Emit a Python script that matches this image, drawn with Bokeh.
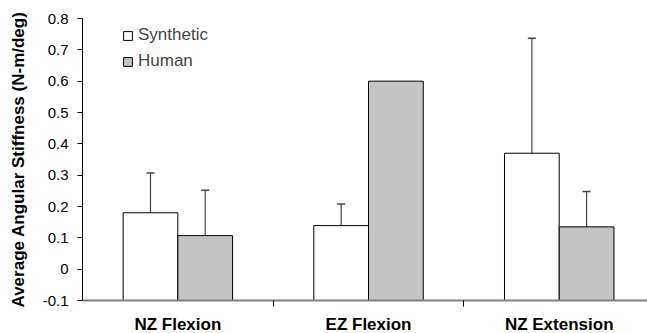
from bokeh.plotting import figure
from bokeh.models import Range1d, FixedTicker, Legend, LegendItem, Whisker, ColumnDataSource, TeeHead
from bokeh.embed import file_html
from bokeh.resources import INLINE

categories = ["NZ Flexion", "EZ Flexion", "NZ Extension"]
synthetic = [0.18, 0.139, 0.37]
synthetic_lo = [0.048, 0.072, 0.0]
synthetic_hi = [0.307, 0.208, 0.737]
human = [0.107, 0.600, 0.135]
human_lo = [-0.037, None, 0.021]
human_hi = [0.252, None, 0.248]
y_ticks = [-0.1, 0, 0.1, 0.2, 0.3, 0.4, 0.5, 0.6, 0.7, 0.8]
y_tick_labels = ["-0.1", "0", "0.1", "0.2", "0.3", "0.4", "0.5", "0.6", "0.7", "0.8"]

FONT = "Liberation Sans"
BAR_W = 0.287
n = len(categories)
centers = [i + 0.5 for i in range(n)]
xs_syn = [c - BAR_W / 2 for c in centers]
xs_hum = [c + BAR_W / 2 for c in centers]

p = figure(width=647, height=336, output_backend="svg", toolbar_location=None,
           x_range=Range1d(0, 2.963), y_range=Range1d(-0.1, 0.8),
           min_border_left=82, min_border_right=0, min_border_top=18, min_border_bottom=36)
p.outline_line_color = None
p.xgrid.visible = False
p.ygrid.visible = False
p.background_fill_color = "white"

src_s = ColumnDataSource(dict(x=xs_syn, top=synthetic))
src_h = ColumnDataSource(dict(x=xs_hum, top=human))
r_s = p.vbar(x="x", top="top", bottom=-0.1, width=BAR_W, source=src_s,
             fill_color="white", line_color="black", line_width=1)
r_h = p.vbar(x="x", top="top", bottom=-0.1, width=BAR_W, source=src_h,
             fill_color="#c4c4c4", line_color="black", line_width=1)

ex, elo, ehi = [], [], []
for x, lo, hi in zip(xs_syn, synthetic_lo, synthetic_hi):
    ex.append(x); elo.append(lo); ehi.append(hi)
for x, lo, hi in zip(xs_hum, human_lo, human_hi):
    if lo is not None:
        ex.append(x); elo.append(lo); ehi.append(hi)
esrc = ColumnDataSource(dict(x=ex, lo=elo, hi=ehi))
w = Whisker(base="x", lower="lo", upper="hi", source=esrc,
            line_color="#444444", line_width=1.2,
            upper_head=TeeHead(size=8, line_color="#444444", line_width=1.5),
            lower_head=TeeHead(size=8, line_color="#444444", line_width=1.5))
p.add_layout(w)

# y axis
ya = p.yaxis[0]
ya.ticker = FixedTicker(ticks=y_ticks)
ya.major_label_overrides = {t: l for t, l in zip(y_ticks, y_tick_labels)}
ya.major_label_text_font = FONT
ya.major_label_text_font_size = "15px"
ya.major_label_text_color = "black"
ya.major_tick_out = 5
ya.major_tick_in = 0
ya.minor_tick_out = 0
ya.minor_tick_in = 0
ya.axis_line_color = "black"
ya.major_tick_line_color = "black"
ya.major_label_standoff = 9
ya.axis_label = "Average Angular Stiffness (N-m/deg)"
ya.axis_label_text_font = FONT
ya.axis_label_text_font_size = "17px"
ya.axis_label_text_font_style = "bold"
ya.axis_label_text_color = "black"
ya.axis_label_standoff = 12

# x axis: names at category centres, boundary ticks as minor ticks
xa = p.xaxis[0]
xa.ticker = FixedTicker(ticks=centers, minor_ticks=[i for i in range(1, n)])
xa.major_label_overrides = {c: name for c, name in zip(centers, categories)}
xa.major_label_text_font = FONT
xa.major_label_text_font_size = "17px"
xa.major_label_text_font_style = "bold"
xa.major_label_text_color = "black"
xa.major_tick_out = 0
xa.major_tick_in = 0
xa.minor_tick_out = 6
xa.minor_tick_in = 0
xa.minor_tick_line_color = "black"
xa.axis_line_color = "#808080"
xa.axis_line_width = 2
xa.major_label_standoff = 8

legend = Legend(items=[LegendItem(label="Synthetic", renderers=[r_s]),
                       LegendItem(label="Human", renderers=[r_h])],
                location=(40, 229), glyph_width=11, glyph_height=11,
                label_text_font=FONT, label_text_font_size="17px",
                label_standoff=5, spacing=6, padding=0, margin=0,
                border_line_color=None, background_fill_alpha=0,
                label_height=20)
p.add_layout(legend)

open("out.html", "w").write(file_html(p, INLINE))
